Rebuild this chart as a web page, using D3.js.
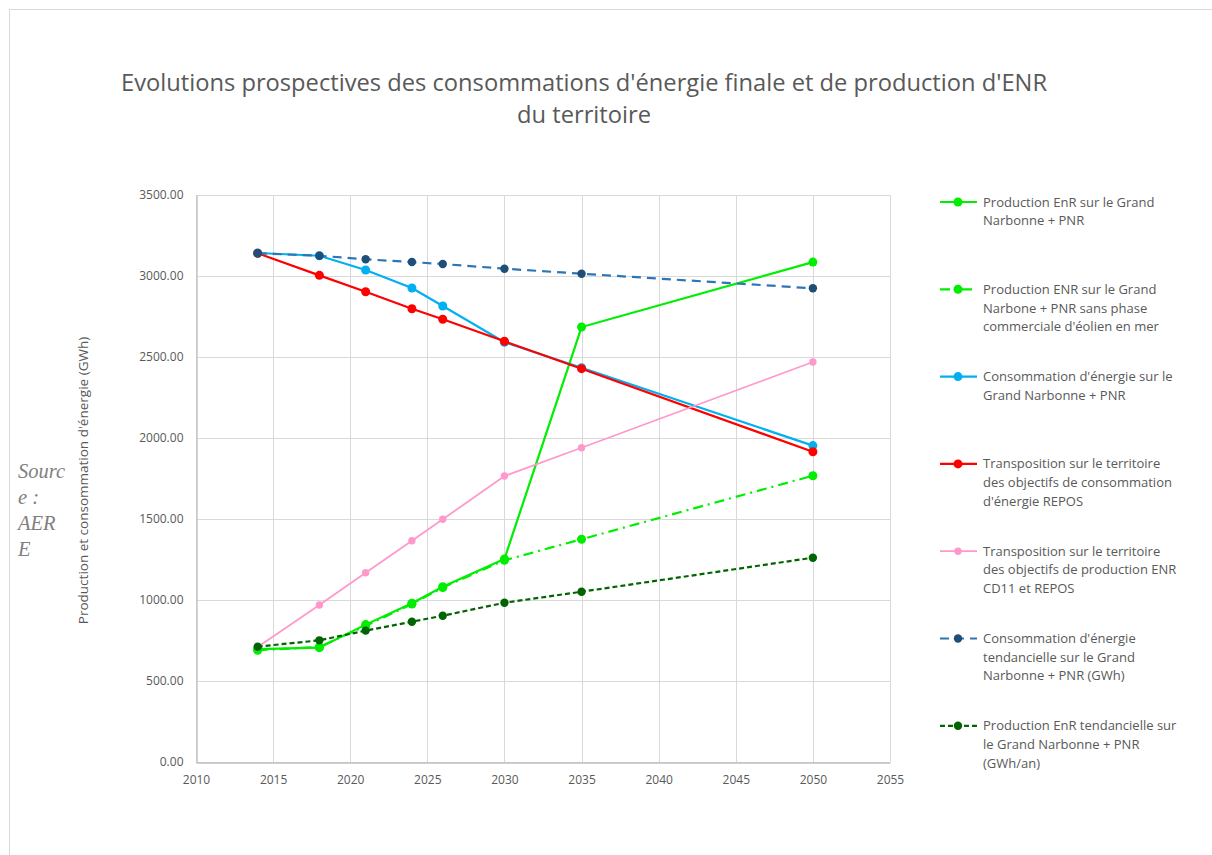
<!DOCTYPE html>
<html>
<head>
<meta charset="utf-8">
<script src="https://cdn.jsdelivr.net/npm/d3@7"></script>
<style>
  body { margin: 0; background: #fff; }
  svg text { font-family: "Open Sans", sans-serif; fill: #595959; }
</style>
</head>
<body>
<svg id="chart" width="1212" height="855"></svg>
<script>
// data
const years = [2014, 2018, 2021, 2024, 2026, 2030, 2035, 2050]
const prodEnr = [697, 706, 848, 980, 1082, 1253, 2685, 3086]
const prodEnrSansEolien = [690, 710, 840, 975, 1077, 1245, 1375, 1767]
const consoEnergie = [3142, 3125, 3037, 2926, 2815, 2591, 2434, 1953]
const consoRepos = [3140, 3004, 2903, 2798, 2733, 2597, 2428, 1915]
const prodRepos = [710, 969, 1168, 1366, 1498, 1765, 1940, 2469]
const consoTendancielle = [3140, 3125, 3103, 3086, 3074, 3045, 3014, 2924]
const prodTendancielle = [712, 751, 811, 866, 903, 983, 1051, 1261]

const xTicks = [2010, 2015, 2020, 2025, 2030, 2035, 2040, 2045, 2050, 2055]
const yTicks = [0, 500, 1000, 1500, 2000, 2500, 3000, 3500]

const legendLabels = [
  ['Production EnR sur le Grand', 'Narbonne + PNR'],
  ['Production ENR sur le Grand', 'Narbone + PNR sans phase', "commerciale d'éolien en mer"],
  ["Consommation d'énergie sur le", 'Grand Narbonne + PNR'],
  ['Transposition sur le territoire', 'des objectifs de consommation', "d'énergie REPOS"],
  ['Transposition sur le territoire', 'des objectifs de production ENR', 'CD11 et REPOS'],
  ["Consommation d'énergie", 'tendancielle sur le Grand', 'Narbonne + PNR (GWh)'],
  ['Production EnR tendancielle sur', 'le Grand Narbonne + PNR', '(GWh/an)']
]

const titleLines = ["Evolutions prospectives des consommations d'énergie finale et de production d'ENR", 'du territoire']
const yTitle = "Production et consommation d'énergie (GWh)"
const sourceLines = ['Sourc', 'e :', 'AER', 'E']

// styling per series, in legend order
const series = [
  { values: prodEnr, line: '#00ee00', dot: '#00ee00', dash: null, w: 2.2, r: 4.5 },
  { values: prodEnrSansEolien, line: '#00ee00', dot: '#00ee00', dash: '10,5,2,5', w: 2.2, r: 4.5 },
  { values: consoEnergie, line: '#00b0f0', dot: '#00b0f0', dash: null, w: 2.2, r: 4.5 },
  { values: consoRepos, line: '#ff0000', dot: '#ff0000', dash: null, w: 2.2, r: 4.5 },
  { values: prodRepos, line: '#ff99cc', dot: '#ff99cc', dash: null, w: 1.8, r: 3.7 },
  { values: consoTendancielle, line: '#2e75b6', dot: '#1f4e79', dash: '9,6', w: 2.2, r: 4.2 },
  { values: prodTendancielle, line: '#006400', dot: '#006400', dash: '5,3', w: 2.2, r: 4.2 }
]

const svg = d3.select('#chart')

// outer frame
svg.append('rect')
  .attr('x', 9.5).attr('y', 9.5)
  .attr('width', 1220).attr('height', 870)
  .attr('fill', 'none')
  .attr('stroke', '#d9d9d9')

const plot = { left: 196, right: 890, top: 195, bottom: 762 }

const x = d3.scaleLinear().domain([2010, 2055]).range([plot.left, plot.right])
const y = d3.scaleLinear().domain([0, 3500]).range([plot.bottom, plot.top])

// gridlines
const grid = svg.append('g').attr('stroke', '#d9d9d9').attr('stroke-width', 1)
grid.selectAll('.hg').data(yTicks).join('line')
  .attr('x1', plot.left).attr('x2', plot.right)
  .attr('y1', d => Math.round(y(d)) + 0.5).attr('y2', d => Math.round(y(d)) + 0.5)
grid.selectAll('.vg').data(xTicks).join('line')
  .attr('y1', plot.top).attr('y2', plot.bottom)
  .attr('x1', d => Math.round(x(d)) + 0.5).attr('x2', d => Math.round(x(d)) + 0.5)

// axes
const yAxis = svg.append('g')
  .attr('transform', `translate(${plot.left + 0.5},0)`)
  .call(d3.axisLeft(y).tickValues(yTicks).tickFormat(d3.format('.2f')).tickSize(0).tickPadding(13))
const xAxis = svg.append('g')
  .attr('transform', `translate(0,${plot.bottom + 0.5})`)
  .call(d3.axisBottom(x).tickValues(xTicks).tickFormat(d3.format('d')).tickSize(0).tickPadding(13))

for (const ax of [yAxis, xAxis]) {
  ax.select('.domain').attr('stroke', '#bfbfbf').attr('stroke-width', 1.3)
  ax.selectAll('text').style('font-size', '12px').attr('fill', '#595959')
}

// series lines and markers
const line = d3.line().x(d => x(d[0])).y(d => y(d[1]))

series.forEach(s => {
  const pts = years.map((yr, i) => [yr, s.values[i]])
  const g = svg.append('g')
  g.append('path')
    .attr('d', line(pts))
    .attr('fill', 'none')
    .attr('stroke', s.line)
    .attr('stroke-width', s.w)
    .attr('stroke-dasharray', s.dash)
  g.selectAll('circle').data(pts).join('circle')
    .attr('cx', d => x(d[0]))
    .attr('cy', d => y(d[1]))
    .attr('r', s.r)
    .attr('fill', s.dot)
})

// title
const title = svg.append('g').attr('text-anchor', 'middle')
const t1 = title.append('text')
  .attr('x', 584).attr('y', 91)
  .style('font-size', '24px')
  .text(titleLines[0])
const squeeze = 926 / t1.node().getComputedTextLength()
t1.attr('textLength', 926).attr('lengthAdjust', 'spacingAndGlyphs')
const t2 = title.append('text')
  .attr('x', 584).attr('y', 123)
  .style('font-size', '24px')
  .text(titleLines[1])
t2.attr('textLength', t2.node().getComputedTextLength() * squeeze).attr('lengthAdjust', 'spacingAndGlyphs')

// y axis title
svg.append('text')
  .attr('transform', `translate(88,${(plot.top + plot.bottom) / 2 + 2}) rotate(-90)`)
  .attr('text-anchor', 'middle')
  .style('font-size', '13.5px')
  .text(yTitle)

// source note
svg.append('g').selectAll('text').data(sourceLines).join('text')
  .attr('x', 18)
  .attr('y', (d, i) => 478 + i * 26)
  .style('font-family', '"Liberation Serif", serif')
  .style('font-style', 'italic')
  .style('font-size', '20.5px')
  .style('fill', '#808080')
  .text(d => d)

// legend
const legend = svg.append('g')
legendLabels.forEach((lines, i) => {
  const s = series[i]
  const cy = 202 + i * 87.3
  const item = legend.append('g')
  item.append('line')
    .attr('x1', 940).attr('x2', 977)
    .attr('y1', cy).attr('y2', cy)
    .attr('stroke', s.line)
    .attr('stroke-width', s.w)
    .attr('stroke-dasharray', s.dash)
  item.append('circle')
    .attr('cx', 958).attr('cy', cy)
    .attr('r', s.r)
    .attr('fill', s.dot)
  item.selectAll('text').data(lines).join('text')
    .attr('x', 983)
    .attr('y', (d, j) => cy + 4.5 + j * 18.7)
    .style('font-size', '13px')
    .text(d => d)
})
</script>
</body>
</html>
